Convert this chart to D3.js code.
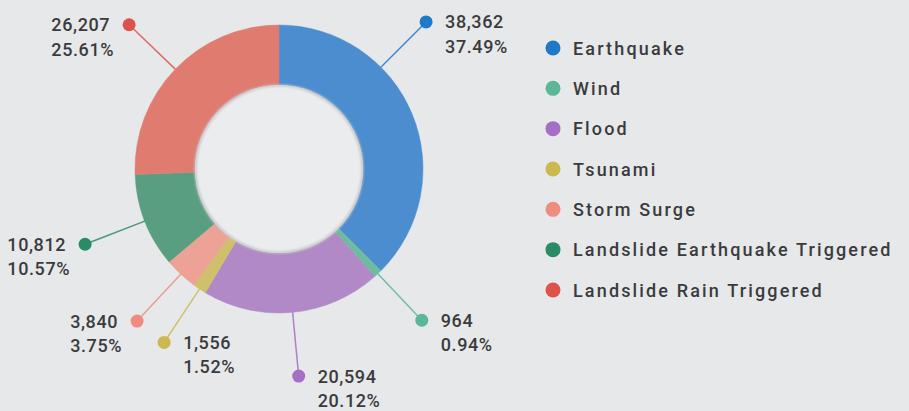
<!DOCTYPE html>
<html>
<head>
<meta charset="utf-8">
<script src="https://cdn.jsdelivr.net/npm/d3@7"></script>
<style>
  html, body { margin: 0; padding: 0; background: #e7e8ea; }
  svg { display: block; }
  text { font-family: Roboto, "Open Sans", sans-serif; fill: #3a3b3d; font-weight: 500; }
</style>
</head>
<body>
<svg id="chart" width="909" height="411"></svg>
<script>
// ---- data ----
const categories = ["Earthquake", "Wind", "Flood", "Tsunami", "Storm Surge", "Landslide Earthquake Triggered", "Landslide Rain Triggered"];
const values = [38362, 964, 20594, 1556, 3840, 10812, 26207];
const percentLabels = ["37.49%", "0.94%", "20.12%", "1.52%", "3.75%", "10.57%", "25.61%"];
const sliceColors = ["#4b8dcf", "#6dbca0", "#b089c6", "#cfc06b", "#eca294", "#5a9e81", "#e07b6f"];
const dotColors = ["#1f78c8", "#5cb698", "#a46fc4", "#cbb84f", "#ee8c80", "#2a8b67", "#de524c"];

// ---- layout ----
const svg = d3.select("#chart");
const cx = 279, cy = 169;
const outerR = 144, innerR = 84, dotR = 208;

const data = categories.map((c, i) => ({ name: c, value: values[i], pct: percentLabels[i], color: sliceColors[i], dot: dotColors[i] }));

const pie = d3.pie().value(d => d.value).sort(null);
const arcs = pie(data);
const arc = d3.arc().innerRadius(innerR).outerRadius(outerR);

const defs = svg.append("defs");
const blur = defs.append("filter").attr("id", "blur").attr("x", "-20%").attr("y", "-20%").attr("width", "140%").attr("height", "140%");
blur.append("feGaussianBlur").attr("stdDeviation", 1.2);

const g = svg.append("g").attr("transform", `translate(${cx},${cy})`);

g.selectAll("path.slice").data(arcs).enter().append("path")
  .attr("class", "slice")
  .attr("d", arc)
  .attr("fill", d => d.data.color)
  .attr("stroke", d => d.data.color)
  .attr("stroke-width", 0.5);

// inner hole with soft shadow edge
g.append("circle").attr("r", innerR).attr("fill", "#ebecee");
g.append("circle").attr("r", innerR - 0.5).attr("fill", "none")
  .attr("stroke", "#c4c5c8").attr("stroke-width", 2.2).attr("filter", "url(#blur)");

// label angle
const labelAngle = d => {
  const m = (d.startAngle + d.endAngle) / 2;
  return (m > Math.PI / 4 && m < Math.PI / 2) ? Math.PI / 4 : m;
};
const pt = (a, r) => [Math.sin(a) * r, -Math.cos(a) * r];

const labels = g.selectAll("g.lab").data(arcs).enter().append("g").attr("class", "lab");

labels.append("line")
  .attr("x1", d => pt(labelAngle(d), outerR)[0])
  .attr("y1", d => pt(labelAngle(d), outerR)[1])
  .attr("x2", d => pt(labelAngle(d), dotR)[0])
  .attr("y2", d => pt(labelAngle(d), dotR)[1])
  .attr("stroke", d => d.data.dot)
  .attr("stroke-width", 1.5)
  .attr("stroke-opacity", 0.85);

labels.append("circle")
  .attr("cx", d => pt(labelAngle(d), dotR)[0])
  .attr("cy", d => pt(labelAngle(d), dotR)[1])
  .attr("r", 6.5)
  .attr("fill", d => d.data.dot);

const fmt = d3.format(",");
const rightLimit = 218 * Math.PI / 180;
labels.each(function(d) {
  const a = labelAngle(d);
  const [x, y] = pt(a, dotR);
  const right = a < rightLimit;
  const t = d3.select(this).append("text")
    .attr("font-size", 18)
    .attr("letter-spacing", 0.6);
  t.append("tspan").attr("x", 0).attr("y", y + 6.5).text(fmt(d.data.value));
  t.append("tspan").attr("x", 0).attr("y", y + 31).text(d.data.pct);
  const w = t.node().getBBox().width;
  const tx = right ? x + 19 : x - 15 - w;
  t.selectAll("tspan").attr("x", tx);
});

// ---- legend ----
const legendY = d3.scalePoint().domain(categories).range([48, 290]);
const legend = svg.append("g");
const items = legend.selectAll("g").data(data).enter().append("g")
  .attr("transform", d => `translate(553,${legendY(d.name)})`);
items.append("circle").attr("r", 7.5).attr("fill", d => d.dot);
items.append("text").attr("x", 20).attr("y", 6.5)
  .attr("font-size", 18).attr("letter-spacing", 2.15)
  .text(d => d.name);
</script>
</body>
</html>
